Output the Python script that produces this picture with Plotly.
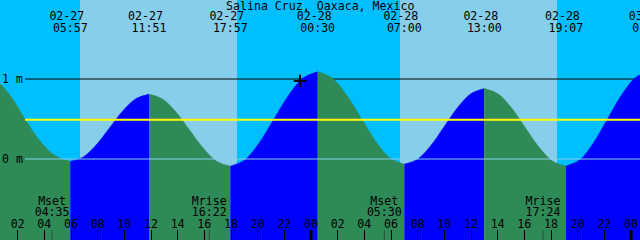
import plotly.graph_objects as go

TITLE = "Salina Cruz, Oaxaca, Mexico"

# Tide extremes (hours since 02-27 00:00)
ext_hours = [-0.8, 5.95, 11.85, 17.95, 24.5, 31.0, 37.0, 43.117, 49.4]
ext_m = [1.05, -0.03, 0.81, -0.09, 1.09, -0.065, 0.88, -0.09, 1.10]

# Labelled extremes shown along the top
label_hours = [5.95, 11.85, 17.95, 24.5, 31.0, 37.0, 43.117, 49.4]
label_dates = ["02-27", "02-27", "02-27", "02-28", "02-28", "02-28", "02-28", "03-01"]
label_times = ["05:57", "11:51", "17:57", "00:30", "07:00", "13:00", "19:07", "01:24"]

# Tide curve readings (hours since 02-27 00:00, metres)
tide_hours = [-0.8, 0.325, 1.45, 2.575, 3.7, 4.825, 5.95,
              6.933, 7.917, 8.9, 9.883, 10.867, 11.85,
              12.867, 13.883, 14.9, 15.917, 16.933, 17.95,
              19.042, 20.133, 21.225, 22.317, 23.408, 24.5,
              25.583, 26.667, 27.75, 28.833, 29.917, 31.0,
              32.0, 33.0, 34.0, 35.0, 36.0, 37.0,
              38.019, 39.039, 40.058, 41.078, 42.097, 43.117,
              44.164, 45.211, 46.258, 47.306, 48.353, 49.4]
tide_m = [1.06, 0.99, 0.79, 0.49, 0.22, 0.04, -0.03,
          0.026, 0.18, 0.39, 0.60, 0.754, 0.81,
          0.75, 0.585, 0.36, 0.135, -0.03, -0.09,
          -0.011, 0.205, 0.50, 0.795, 1.011, 1.09,
          1.013, 0.801, 0.512, 0.224, 0.012, -0.065,
          -0.002, 0.171, 0.4075, 0.644, 0.817, 0.88,
          0.815, 0.6375, 0.395, 0.1525, -0.025, -0.09,
          -0.01, 0.2075, 0.505, 0.8025, 1.02, 1.10]

sunrise_hours = [6.675, 30.675]
sunset_hours = [18.45, 42.45]

moon_hours = [4.583, 16.367, 29.5, 41.4]
moon_names = ["Mset", "Mrise", "Mset", "Mrise"]
moon_times = ["04:35", "16:22", "05:30", "17:24"]

tick_hours = [2, 4, 6, 8, 10, 12, 14, 16, 18, 20, 22, 24,
              26, 28, 30, 32, 34, 36, 38, 40, 42, 44, 46, 48]
tick_labels = ["02", "04", "06", "08", "10", "12", "14", "16", "18", "20", "22", "00",
               "02", "04", "06", "08", "10", "12", "14", "16", "18", "20", "22", "00"]
midnight_hours = [24, 48]

mean_level_m = 0.49
depth_labels_m = [1, 0]
now_hour = 23.175
now_m = 0.975

# ---------- style ----------
NIGHT = "#00BFFF"
DAY = "#87CEEB"
GREEN = "#2E8B57"
BLUE = "#0000FF"
FONT = "DejaVu Sans Mono"
FS = 11.6
X_RANGE = [0.675, 48.675]
Y_RANGE = [-1.0125, 1.9875]

fig = go.Figure()

# day shading
for sr, ss in zip(sunrise_hours, sunset_hours):
    fig.add_shape(type="rect", xref="x", yref="paper", x0=sr, x1=ss, y0=0, y1=1,
                  fillcolor=DAY, line_width=0, layer="below")

# 1 m line (beneath the water)
fig.add_shape(type="line", xref="paper", yref="y", x0=25 / 640, x1=1,
              y0=depth_labels_m[0], y1=depth_labels_m[0],
              line=dict(color="black", width=1), layer="below")

# water fill, one segment per rise/fall
for a in range(len(ext_hours) - 1):
    t0, t1 = ext_hours[a], ext_hours[a + 1]
    xs = [t for t in tide_hours if t0 <= t <= t1]
    ys = [m for t, m in zip(tide_hours, tide_m) if t0 <= t <= t1]
    color = BLUE if ext_m[a + 1] > ext_m[a] else GREEN
    fig.add_trace(go.Scatter(x=xs, y=[Y_RANGE[0] - 0.5] * len(xs), mode="lines",
                             line=dict(width=0), hoverinfo="skip", showlegend=False))
    fig.add_trace(go.Scatter(x=xs, y=ys, mode="lines",
                             line=dict(width=0.6, color=color, shape="spline"),
                             fill="tonexty", fillcolor=color,
                             hoverinfo="skip", showlegend=False))

# lines above the water
fig.add_shape(type="line", xref="paper", yref="y", x0=25 / 640, x1=1,
              y0=mean_level_m, y1=mean_level_m,
              line=dict(color="#FFFF00", width=2), layer="above")
fig.add_shape(type="line", xref="paper", yref="y", x0=25 / 640, x1=1,
              y0=depth_labels_m[1], y1=depth_labels_m[1],
              line=dict(color=DAY, width=1), layer="above")

# thick midnight ticks
for mh in midnight_hours:
    fig.add_shape(type="line", xref="x", yref="paper", x0=mh, x1=mh,
                  y0=0, y1=10 / 240, line=dict(color="black", width=3), layer="above")
# moon ticks
for mh in moon_hours:
    fig.add_shape(type="line", xref="x", yref="paper", x0=mh, x1=mh,
                  y0=0, y1=10 / 240, line=dict(color="rgba(40,60,50,0.75)", width=1),
                  layer="above")

# current time marker
fig.add_trace(go.Scatter(x=[now_hour], y=[now_m], mode="markers",
                         marker=dict(symbol="cross-thin", size=9,
                                     line=dict(color="black", width=2)),
                         hoverinfo="skip", showlegend=False))


def text_trace(xs, y_px, texts):
    return go.Scatter(x=xs, y=[y_px] * len(xs), yaxis="y2", mode="text", text=texts,
                      textposition="middle center",
                      textfont=dict(family=FONT, size=FS, color="black"),
                      hoverinfo="skip", showlegend=False)


fig.add_trace(text_trace(label_hours, 17, [d + "\u00a0" for d in label_dates]))
fig.add_trace(text_trace(label_hours, 29.5, label_times))
fig.add_trace(text_trace(moon_hours, 202, moon_names))
fig.add_trace(text_trace(moon_hours, 213, moon_times))
fig.add_trace(text_trace(tick_hours, 225.5, tick_labels))

fig.add_annotation(text=TITLE, xref="paper", yref="paper", x=0.5, y=1 - 5.5 / 240,
                   xanchor="center", yanchor="middle", showarrow=False,
                   font=dict(family=FONT, size=FS, color="black"))
for d in depth_labels_m:
    fig.add_annotation(text=f"{d} m", xref="paper", yref="y", x=0, y=d,
                       xanchor="left", yanchor="middle", showarrow=False,
                       font=dict(family=FONT, size=FS, color="black"))

fig.update_layout(
    width=640, height=240, margin=dict(l=0, r=0, t=0, b=0),
    plot_bgcolor=NIGHT, paper_bgcolor=NIGHT, showlegend=False,
    xaxis=dict(range=X_RANGE, showgrid=False, zeroline=False, showticklabels=False,
               ticks="inside", ticklen=10, tickwidth=1, tickcolor="black",
               tickmode="array", tickvals=tick_hours, showline=False),
    yaxis=dict(range=Y_RANGE, showgrid=False, zeroline=False, showticklabels=False,
               ticks=""),
    yaxis2=dict(range=[240, 0], overlaying="y", visible=False),
)

fig.write_html("out.html", config={"displayModeBar": False})
